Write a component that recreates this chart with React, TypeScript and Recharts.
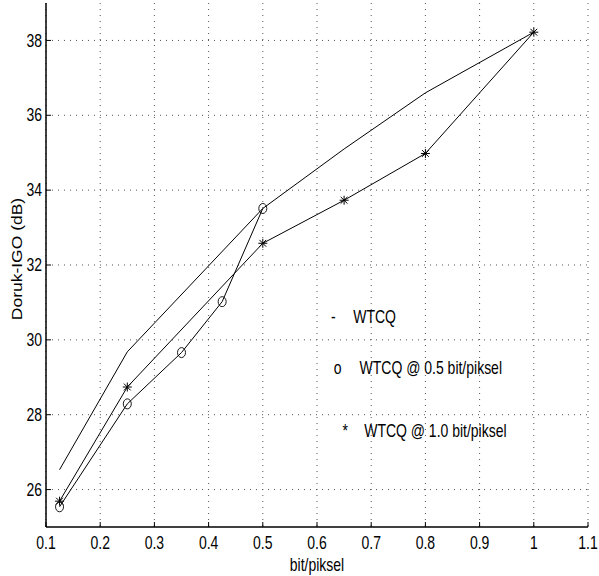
import React from "react";
import {
  CartesianGrid,
  Line,
  LineChart,
  ReferenceDot,
  XAxis,
  YAxis,
} from "recharts";

const xWtcq = [0.125, 0.25, 0.5, 0.65, 0.8, 1.0];
const wtcq = [26.53, 29.68, 33.51, 35.1, 36.6, 38.22];

const xHalf = [0.125, 0.25, 0.35, 0.425, 0.5];
const half = [25.54, 28.29, 29.66, 31.02, 33.51];

const xFull = [0.125, 0.25, 0.5, 0.65, 0.8, 1.0];
const full = [25.69, 28.74, 32.58, 33.73, 34.98, 38.22];

const xTicks = [0.1, 0.2, 0.3, 0.4, 0.5, 0.6, 0.7, 0.8, 0.9, 1, 1.1];
const yTicks = [26, 28, 30, 32, 34, 36, 38];

const legendItems = [
  { mark: "-", text: "WTCQ", x: 0.63, y: 30.61, gap: 20 },
  { mark: "o", text: "WTCQ @ 0.5 bit/piksel", x: 0.638, y: 29.25, gap: 22 },
  { mark: "*", text: "WTCQ @ 1.0 bit/piksel", x: 0.652, y: 27.57, gap: 19 },
];

const FONT = "'Liberation Sans', Arial, Helvetica, sans-serif";
const INK = "#000";

const toRows = (xs: number[], ys: number[]) => xs.map((x, i) => ({ x, y: ys[i] }));

function T(props: {
  x: number;
  y: number;
  anchor?: "start" | "middle" | "end";
  size?: number;
  rotate?: boolean;
  children: React.ReactNode;
}) {
  const { x, y, anchor = "middle", size = 14, rotate, children } = props;
  return (
    <text
      transform={`translate(${x},${y}) scale(1,1.25)${rotate ? " rotate(-90)" : ""}`}
      textAnchor={anchor}
      dominantBaseline="central"
      fontSize={size}
      fontFamily={FONT}
      fill={INK}
    >
      {children}
    </text>
  );
}

const BottomTick = (p: any) => (
  <g>
    <line x1={p.x} x2={p.x} y1={p.y} y2={p.y - 5} stroke={INK} />
    <T x={p.x} y={p.y + 16}>
      {String(p.payload.value)}
    </T>
  </g>
);

const TopTick = (p: any) => (
  <line x1={p.x} x2={p.x} y1={p.y} y2={p.y + 5} stroke={INK} />
);

const LeftTick = (p: any) => (
  <g>
    <line x1={p.x} x2={p.x + 5} y1={p.y} y2={p.y} stroke={INK} />
    <T x={p.x - 4} y={p.y} anchor="end">
      {String(p.payload.value)}
    </T>
  </g>
);

const RightTick = (p: any) => (
  <line x1={p.x} x2={p.x - 5} y1={p.y} y2={p.y} stroke={INK} />
);

const Ring = (p: any) => (
  <ellipse
    key={p.index}
    cx={p.cx}
    cy={p.cy}
    rx={4}
    ry={5}
    fill="none"
    stroke={INK}
    strokeWidth={0.9}
  />
);

const Star = (p: any) => {
  const { cx, cy } = p;
  const r = 4.5;
  const d = 3.4;
  return (
    <g key={p.index} stroke={INK} strokeWidth={1}>
      <line x1={cx - r} x2={cx + r} y1={cy} y2={cy} />
      <line x1={cx} x2={cx} y1={cy - r} y2={cy + r} />
      <line x1={cx - d} x2={cx + d} y1={cy - d} y2={cy + d} />
      <line x1={cx - d} x2={cx + d} y1={cy + d} y2={cy - d} />
    </g>
  );
};

export default function App() {
  return (
    <div style={{ position: "absolute", left: 0, top: 0, background: "#fff" }}>
      <LineChart
        width={599}
        height={576}
        margin={{ top: 3, right: 11, bottom: 0, left: 0 }}
      >
        <CartesianGrid
          stroke="#555"
          strokeDasharray="1 5"
          horizontalValues={yTicks}
          verticalValues={xTicks}
        />
        <XAxis
          type="number"
          dataKey="x"
          domain={[0.1, 1.1]}
          ticks={xTicks}
          allowDataOverflow
          height={49}
          tickSize={0}
          tickMargin={0}
          axisLine={{ stroke: INK, strokeWidth: 1.5 }}
          tick={BottomTick}
          interval={0}
          label={{
            content: (lp: any) => {
              const vb = lp.viewBox || { x: 46, y: 527, width: 542 };
              return (
                <T x={vb.x + vb.width / 2} y={vb.y + 38}>
                  bit/piksel
                </T>
              );
            },
          }}
        />
        <XAxis
          xAxisId="top"
          orientation="top"
          type="number"
          dataKey="x"
          domain={[0.1, 1.1]}
          ticks={xTicks}
          allowDataOverflow
          height={0}
          tickSize={0}
          tickMargin={0}
          axisLine={{ stroke: INK, strokeWidth: 1.2 }}
          tick={TopTick}
          interval={0}
        />
        <YAxis
          type="number"
          domain={[25, 39]}
          ticks={yTicks}
          allowDataOverflow
          width={46}
          tickSize={0}
          tickMargin={0}
          axisLine={{ stroke: INK, strokeWidth: 1.5 }}
          tick={LeftTick}
          interval={0}
          label={{
            content: (lp: any) => {
              const vb = lp.viewBox || { x: 0, y: 3, width: 46, height: 524 };
              return (
                <T x={17} y={vb.y + vb.height / 2 - 6} rotate>
                  Doruk-IGO (dB)
                </T>
              );
            },
          }}
        />
        <YAxis
          yAxisId="right"
          orientation="right"
          type="number"
          domain={[25, 39]}
          ticks={yTicks}
          allowDataOverflow
          width={0}
          tickSize={0}
          tickMargin={0}
          axisLine={{ stroke: INK, strokeWidth: 1.2 }}
          tick={RightTick}
          interval={0}
        />
        <Line
          data={toRows(xWtcq, wtcq)}
          dataKey="y"
          stroke={INK}
          strokeWidth={1}
          dot={false}
          isAnimationActive={false}
        />
        <Line
          data={toRows(xHalf, half)}
          dataKey="y"
          stroke={INK}
          strokeWidth={1}
          dot={Ring}
          isAnimationActive={false}
        />
        <Line
          data={toRows(xFull, full)}
          dataKey="y"
          stroke={INK}
          strokeWidth={1}
          dot={Star}
          isAnimationActive={false}
        />
        {legendItems.map((it, i) => (
          <ReferenceDot
            key={i}
            x={it.x}
            y={it.y}
            r={1}
            ifOverflow="visible"
            shape={(sp: any) => (
              <g>
                <T x={sp.cx} y={sp.cy}>
                  {it.mark}
                </T>
                <T x={sp.cx + it.gap} y={sp.cy} anchor="start">
                  {it.text}
                </T>
              </g>
            )}
          />
        ))}
      </LineChart>
    </div>
  );
}
